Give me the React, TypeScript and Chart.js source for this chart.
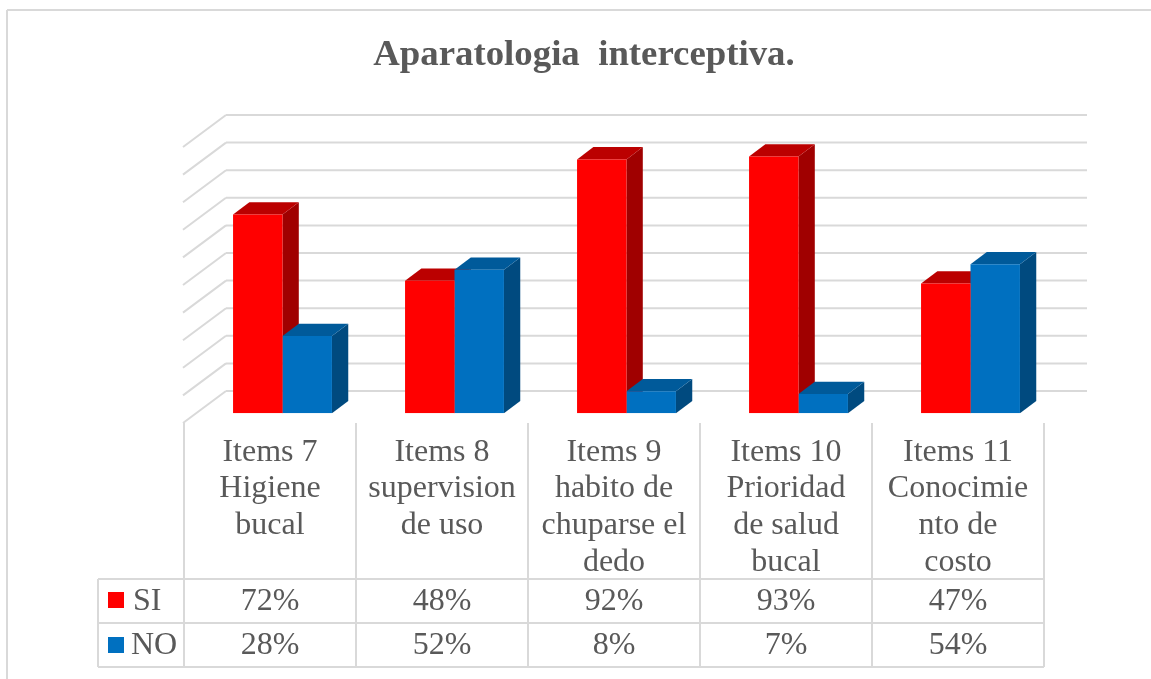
import React, { useEffect, useRef } from "react";
import { Chart, registerables } from "chart.js";

Chart.register(...registerables);

const chartTitle = "Aparatologia  interceptiva.";
const categories = [
  ["Items 7", "Higiene", "bucal"],
  ["Items 8", "supervision", "de uso"],
  ["Items 9", "habito de", "chuparse el", "dedo"],
  ["Items 10", "Prioridad", "de salud", "bucal"],
  ["Items 11", "Conocimie", "nto de", "costo"],
];
const siValues = [72, 48, 92, 93, 47];
const noValues = [28, 52, 8, 7, 54];

const W = 1151;
const H = 679;
const FONT = '"Liberation Serif", serif';
const TEXT = "#595959";
const LINE = "#d9d9d9";
const FACE: Record<string, { side: string; top: string }> = {
  "#ff0000": { side: "#a00000", top: "#bb0000" },
  "#0070c0": { side: "#004a7f", top: "#005a9a" },
};
const DEPTH = { x: 16.3, y: 12.3 };
const WALL = { x: 29, y: 22.3 };

function poly(ctx: CanvasRenderingContext2D, pts: number[][], fill: string) {
  ctx.fillStyle = fill;
  ctx.beginPath();
  pts.forEach(([x, y], i) => (i ? ctx.lineTo(x, y) : ctx.moveTo(x, y)));
  ctx.closePath();
  ctx.fill();
}

function seg(ctx: CanvasRenderingContext2D, x1: number, y1: number, x2: number, y2: number) {
  ctx.beginPath();
  ctx.moveTo(x1, y1);
  ctx.lineTo(x2, y2);
  ctx.stroke();
}

const backdrop = {
  id: "backdrop",
  beforeDatasetsDraw(chart: any) {
    const { ctx, scales } = chart;
    const yS = scales.y;
    ctx.save();
    // outer frame
    ctx.strokeStyle = LINE;
    ctx.lineWidth = 2;
    seg(ctx, 7, 679, 7, 10);
    seg(ctx, 7, 10, 1151, 10);
    // title
    ctx.fillStyle = TEXT;
    ctx.font = `bold 36.8px ${FONT}`;
    ctx.textAlign = "center";
    ctx.textBaseline = "middle";
    ctx.fillText(chartTitle, 584, 55);
    // walls
    yS.ticks.forEach((t: any) => {
      const y = yS.getPixelForValue(t.value) - WALL.y;
      seg(ctx, 226, y, 1087, y);
      seg(ctx, 183, y + 32, 226, y);
    });
    // bar side and top faces: first series first, so the second covers it;
    // the front faces are drawn afterwards by the library
    chart.data.datasets.forEach((ds: any, d: number) => {
      const f = FACE[ds.backgroundColor];
      chart.getDatasetMeta(d).data.forEach((b: any) => {
        const l = b.x - b.width / 2;
        const r = b.x + b.width / 2;
        poly(ctx, [[r, b.y], [r + DEPTH.x, b.y - DEPTH.y], [r + DEPTH.x, b.base - DEPTH.y], [r, b.base]], f.side);
        poly(ctx, [[l, b.y], [l + DEPTH.x, b.y - DEPTH.y], [r + DEPTH.x, b.y - DEPTH.y], [r, b.y]], f.top);
      });
    });
    ctx.restore();
  },
  afterDatasetsDraw(chart: any) {
    const { ctx, data } = chart;
    const colX = (i: number) => 184 + 172 * i;
    const rows = [579, 623, 667];
    ctx.save();
    ctx.strokeStyle = LINE;
    ctx.lineWidth = 2;
    rows.forEach((y) => seg(ctx, 98, y, colX(5), y));
    seg(ctx, 98, rows[0], 98, rows[2]);
    categories.forEach((_, i) => seg(ctx, colX(i), 423, colX(i), rows[2]));
    seg(ctx, colX(5), 423, colX(5), rows[2]);
    ctx.fillStyle = TEXT;
    ctx.font = `32px ${FONT}`;
    ctx.textBaseline = "middle";
    ctx.textAlign = "center";
    const lineY = [453, 489, 526, 563];
    (data.labels as string[][]).forEach((lines, i) => {
      const cx = colX(i) + 86;
      lines.forEach((s, k) => ctx.fillText(s, cx, lineY[k]));
      data.datasets.forEach((ds: any, d: number) => {
        ctx.fillText(`${ds.data[i]}%`, cx, 602 + 44 * d);
      });
    });
    ctx.textAlign = "left";
    data.datasets.forEach((ds: any, d: number) => {
      ctx.fillStyle = ds.backgroundColor;
      ctx.fillRect(108, 592 + 45 * d, 16, 16);
      ctx.fillStyle = TEXT;
      ctx.fillText(ds.label, d === 0 ? 133 : 131, 602 + 44 * d);
    });
    ctx.restore();
  },
};

export default function App() {
  const ref = useRef<HTMLCanvasElement | null>(null);
  useEffect(() => {
    const chart = new Chart(ref.current as HTMLCanvasElement, {
      type: "bar",
      data: {
        labels: categories as any,
        datasets: [
          { label: "SI", data: siValues, backgroundColor: "#ff0000" },
          { label: "NO", data: noValues, backgroundColor: "#0070c0" },
        ],
      },
      options: {
        responsive: false,
        animation: false,
        layout: { padding: { left: 196.5, right: W - 1056.5, top: 137.3, bottom: H - 413.3 } },
        datasets: { bar: { categoryPercentage: 0.575, barPercentage: 1 } },
        plugins: { legend: { display: false }, title: { display: false }, tooltip: { enabled: false } },
        scales: {
          x: { display: false },
          y: { display: false, min: 0, max: 100, ticks: { stepSize: 10 } },
        },
      },
      plugins: [backdrop],
    });
    return () => chart.destroy();
  }, []);
  return (
    <div style={{ position: "absolute", left: 0, top: 0, width: W, height: H, background: "#fff" }}>
      <canvas ref={ref} width={W} height={H} style={{ display: "block" }} />
    </div>
  );
}
